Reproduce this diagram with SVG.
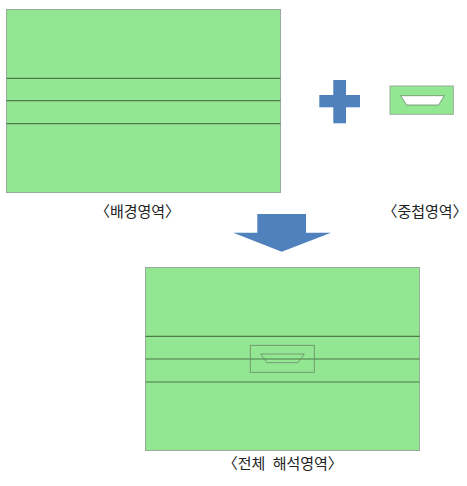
<svg xmlns="http://www.w3.org/2000/svg" width="467" height="486" viewBox="0 0 467 486">
<style>
.area{fill:#93e692;stroke:#9aaa9a;stroke-width:1}
.band{stroke:#4d7a4d;stroke-width:1.2;fill:none}
.thin{stroke:#6a8a6a;stroke-width:0.8;fill:none}
.blue{fill:#4f81bd}
.lbl{font-family:"Noto Sans CJK KR","Noto Sans CJK SC",sans-serif;font-size:15px;fill:#222;text-anchor:middle}
</style>
<rect width="467" height="486" fill="#fff"/>
<g id="background">
<rect class="area" x="6.5" y="9.5" width="274" height="183"/>
<line class="band" x1="6.5" y1="78.3" x2="280.5" y2="78.3"/>
<line class="band" x1="6.5" y1="100.7" x2="280.5" y2="100.7"/>
<line class="band" x1="6.5" y1="123.7" x2="280.5" y2="123.7"/>
<text class="lbl" x="137.5" y="216.5">〈배경영역〉</text>
</g>
<g id="plus">
<rect class="blue" x="333.3" y="80" width="12.7" height="43.3"/>
<rect class="blue" x="319.3" y="95" width="40.7" height="12.3"/>
</g>
<g id="overlap">
<rect class="area" x="390" y="86" width="63.3" height="28.3"/>
<polygon points="400.7,95.7 444.3,95.7 438.7,105 406.7,105" fill="#fff" stroke="#6a8a6a" stroke-width="0.8"/>
<text class="lbl" x="425" y="216.5">〈중첩영역〉</text>
</g>
<g id="arrow">
<polygon class="blue" points="257.3,214 306,214 306,232.7 331,232.7 281.7,251.7 233.3,232.7 257.3,232.7"/>
</g>
<g id="whole">
<rect class="area" x="145.5" y="267.5" width="274" height="183"/>
<line class="band" x1="145.5" y1="336.3" x2="419.5" y2="336.3"/>
<line class="band" x1="145.5" y1="359" x2="419.5" y2="359"/>
<line class="band" x1="145.5" y1="382" x2="419.5" y2="382"/>
<rect class="thin" x="250.3" y="345.3" width="64" height="27"/>
<polygon class="thin" points="260.7,354 304.3,354 298,362.7 266.7,362.7"/>
<text class="lbl" x="282.8" y="469">〈전체 <tspan dx="4">해석영역〉</tspan></text>
</g>
</svg>
